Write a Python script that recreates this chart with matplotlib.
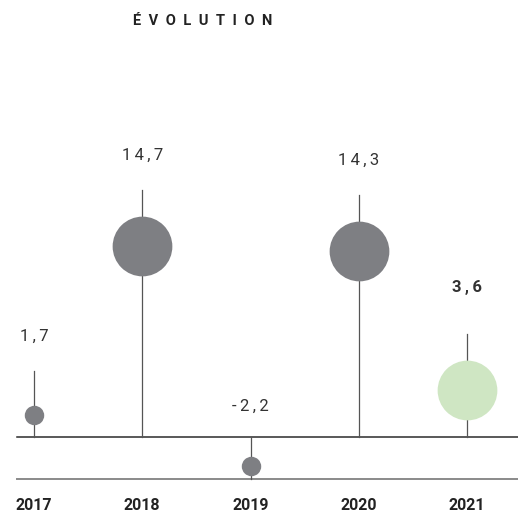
import numpy as np
import matplotlib.pyplot as plt

# data
years = ['2017', '2018', '2019', '2020', '2021']
values = [1.7, 14.7, -2.2, 14.3, 3.6]
highlight = [False, False, False, False, True]

GREY = '#7e7f83'
GREEN = '#cfe6c3'
STEM = '#555555'
TEXT = '#333333'

plt.rcParams['font.family'] = ['Roboto', 'DejaVu Sans']

fig = plt.figure(figsize=(5.18, 5.15), dpi=100)
ax = fig.add_axes([0, 0, 1, 1])

# px per unit ~13, zero line 437 px from top
ax.set_xlim(-0.314, 4.471)
ax.set_ylim(-6.0, 33.6)
ax.axis('off')

base = -3.25   # lower grey rule


def fmt(v):
    s = f'{v:.1f}'.replace('.', ',')
    return '\u2009'.join(s)


x = np.arange(len(years))
ax.plot([-0.16, 4.471], [0, 0], color='#2b2b2b', lw=1.1, zorder=1)
ax.plot([-0.16, 4.471], [base, base], color='#8a8a8a', lw=1.4, zorder=1)

for xi, v, hl in zip(x, values, highlight):
    big = abs(v) > 3
    ms = 43 if big else 14
    col = GREEN if hl else GREY
    if v >= 0:
        top = v + (4.3 if big else 3.4)
        ax.plot([xi, xi], [0, top], color=STEM, lw=0.9, zorder=2)
        ty = top + (3.0 if hl else 2.1)
    else:
        ax.plot([xi, xi], [0, base], color=STEM, lw=0.9, zorder=2)
        ty = 1.8
    ax.plot(xi, v, 'o', ms=ms, color=col, mec='none', zorder=3)
    ax.text(xi, ty, fmt(v), ha='center', va='bottom', fontsize=12,
            color=TEXT, fontweight='bold' if hl else 'normal')

for xi, yr in zip(x, years):
    ax.text(xi, -5.3, yr, ha='center', va='center', fontsize=11.5,
            fontweight='bold', color='#222222')

ax.text(1.56, 32.0, '\u2002'.join('ÉVOLUTION'), ha='center', va='center',
        fontsize=10.5, fontweight='bold', color='#222222')

fig.savefig('out.png', dpi=100)
